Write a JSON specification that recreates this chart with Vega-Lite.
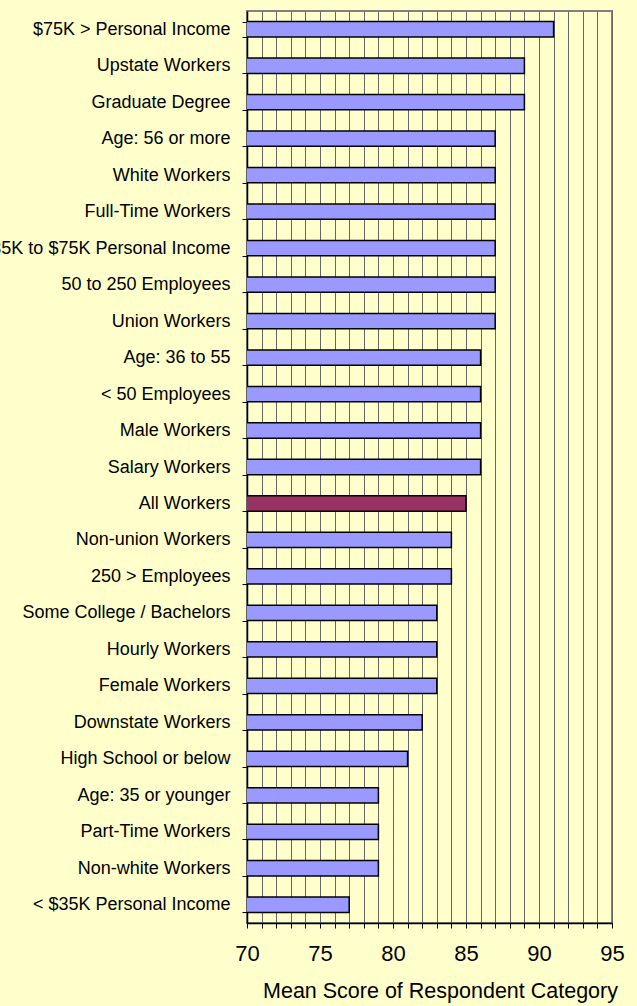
{
  "$schema": "https://vega.github.io/schema/vega-lite/v6.json",
  "width": 365,
  "height": 912,
  "autosize": {"type": "none"},
  "padding": {"left": 247, "top": 11, "right": 25, "bottom": 83},
  "background": "#FFFFCC",
  "config": {
    "view": {"fill": "#FFFFCC", "stroke": "#808080", "strokeWidth": 2},
    "font": "Liberation Sans"
  },
  "data": {
    "values": [
      {"category": "$75K > Personal Income", "score": 91, "group": "other"},
      {"category": "Upstate Workers", "score": 89, "group": "other"},
      {"category": "Graduate Degree", "score": 89, "group": "other"},
      {"category": "Age: 56 or more", "score": 87, "group": "other"},
      {"category": "White Workers", "score": 87, "group": "other"},
      {"category": "Full-Time Workers", "score": 87, "group": "other"},
      {"category": "$35K to $75K Personal Income", "score": 87, "group": "other"},
      {"category": "50 to 250 Employees", "score": 87, "group": "other"},
      {"category": "Union Workers", "score": 87, "group": "other"},
      {"category": "Age: 36 to 55", "score": 86, "group": "other"},
      {"category": "< 50 Employees", "score": 86, "group": "other"},
      {"category": "Male Workers", "score": 86, "group": "other"},
      {"category": "Salary Workers", "score": 86, "group": "other"},
      {"category": "All Workers", "score": 85, "group": "all"},
      {"category": "Non-union Workers", "score": 84, "group": "other"},
      {"category": "250 > Employees", "score": 84, "group": "other"},
      {"category": "Some College / Bachelors", "score": 83, "group": "other"},
      {"category": "Hourly Workers", "score": 83, "group": "other"},
      {"category": "Female Workers", "score": 83, "group": "other"},
      {"category": "Downstate Workers", "score": 82, "group": "other"},
      {"category": "High School or below", "score": 81, "group": "other"},
      {"category": "Age: 35 or younger", "score": 79, "group": "other"},
      {"category": "Part-Time Workers", "score": 79, "group": "other"},
      {"category": "Non-white Workers", "score": 79, "group": "other"},
      {"category": "< $35K Personal Income", "score": 77, "group": "other"}
    ]
  },
  "mark": {"type": "bar", "stroke": "#000000", "strokeWidth": 1.5, "clip": true},
  "encoding": {
    "y": {
      "field": "category",
      "type": "nominal",
      "sort": null,
      "scale": {"paddingInner": 0.58, "paddingOuter": 0.29},
      "axis": {
        "title": null,
        "domainColor": "#000000",
        "domainWidth": 1.5,
        "tickColor": "#000000",
        "tickBand": "extent",
        "tickSize": 5,
        "labelFontSize": 18,
        "labelColor": "#000000",
        "labelPadding": 12,
        "labelLimit": 0
      }
    },
    "x": {
      "field": "score",
      "type": "quantitative",
      "scale": {"domain": [70, 95], "zero": false, "nice": false},
      "axis": {
        "title": "Mean Score of Respondent Category",
        "titleFontSize": 21.5,
        "titleFontWeight": "normal",
        "titleColor": "#000000",
        "titleX": 193,
        "titleY": 74,
        "titleAlign": "center",
        "titleBaseline": "alphabetic",
        "values": [70,71,72,73,74,75,76,77,78,79,80,81,82,83,84,85,86,87,88,89,90,91,92,93,94,95],
        "labelExpr": "datum.value % 5 === 0 ? datum.label : ''",
        "labelFontSize": 22,
        "labelColor": "#000000",
        "labelPadding": 15,
        "labelFlush": false,
        "labelOverlap": false,
        "grid": true,
        "gridColor": "#666666",
        "gridWidth": 1,
        "domainColor": "#000000",
        "domainWidth": 1.5,
        "tickColor": "#000000",
        "tickSize": 5
      }
    },
    "color": {
      "field": "group",
      "type": "nominal",
      "scale": {"domain": ["other", "all"], "range": ["#9999FF", "#993366"]},
      "legend": null
    }
  }
}
